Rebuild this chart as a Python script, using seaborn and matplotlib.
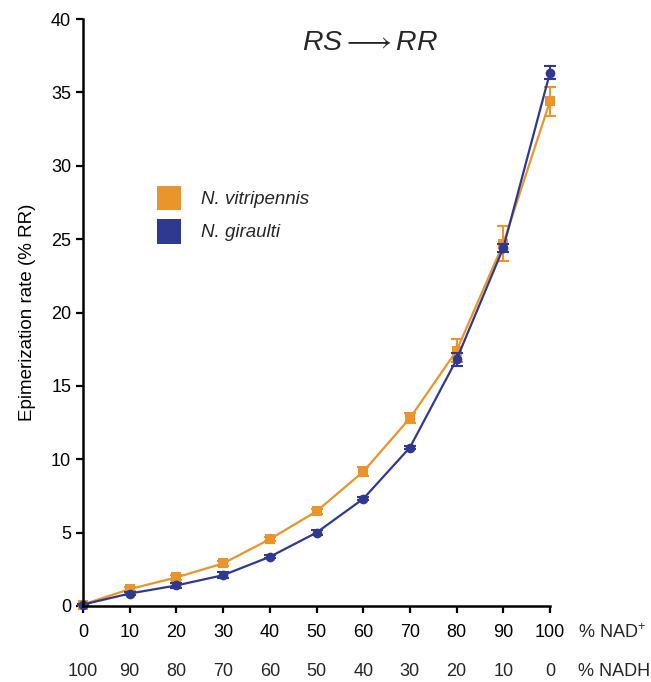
import numpy as np
import pandas as pd
import matplotlib
matplotlib.use("Agg")
import matplotlib.pyplot as plt
import seaborn as sns
from matplotlib.patches import Patch

# Data
nad_pct = [0, 10, 20, 30, 40, 50, 60, 70, 80, 90, 100]
nadh_pct = [100, 90, 80, 70, 60, 50, 40, 30, 20, 10, 0]

vitripennis_rate = [0.1, 1.15, 1.95, 2.9, 4.55, 6.45, 9.15, 12.8, 17.4, 24.7, 34.4]
vitripennis_err = [0.05, 0.15, 0.15, 0.15, 0.15, 0.15, 0.3, 0.35, 0.8, 1.2, 1.0]

giraulti_rate = [0.1, 0.85, 1.4, 2.1, 3.35, 5.0, 7.3, 10.8, 16.8, 24.4, 36.35]
giraulti_err = [0.05, 0.1, 0.2, 0.2, 0.1, 0.15, 0.1, 0.1, 0.45, 0.3, 0.45]

ORANGE = "#E9952B"
BLUE = "#2F3990"

sns.set_theme(style="ticks")
plt.rcParams["font.family"] = ["Liberation Sans", "DejaVu Sans"]
plt.rcParams["mathtext.fontset"] = "custom"
plt.rcParams["mathtext.rm"] = "Liberation Sans"
plt.rcParams["mathtext.it"] = "Liberation Sans:italic"

df = pd.DataFrame({
    "nad": nad_pct * 2,
    "rate": vitripennis_rate + giraulti_rate,
    "err": vitripennis_err + giraulti_err,
    "species": ["N. vitripennis"] * len(nad_pct) + ["N. giraulti"] * len(nad_pct),
})

fig = plt.figure(figsize=(6.51, 6.82), dpi=100)
ax = fig.add_axes([83 / 651, 1 - 606 / 682, 467 / 651, 587 / 682])

styles = {"N. vitripennis": (ORANGE, "s", 7.5), "N. giraulti": (BLUE, "o", 7)}
for name in ["N. vitripennis", "N. giraulti"]:
    sub = df[df["species"] == name]
    color, mk, ms = styles[name]
    sns.lineplot(data=sub, x="nad", y="rate", ax=ax, color=color, lw=1.6,
                 marker=mk, markersize=ms, markeredgewidth=0, clip_on=False)
    ax.errorbar(sub["nad"], sub["rate"], yerr=sub["err"], fmt="none",
                ecolor=color, elinewidth=1.5, capsize=4, capthick=1.5, clip_on=False)

ax.set_xlim(0, 100)
ax.set_ylim(0, 40)
ax.set_xticks(nad_pct)
ax.set_xticklabels([str(v) for v in nad_pct])
ax.set_yticks(range(0, 41, 5))
ax.tick_params(axis="both", labelsize=13, length=5, width=1.6, color="black",
               labelcolor="black")
ax.tick_params(axis="x", pad=8)
ax.set_xlabel("")
ax.set_ylabel("Epimerization rate (% RR)", fontsize=13.5, color="black", labelpad=11)
sns.despine(ax=ax)
for s in ["left", "bottom"]:
    ax.spines[s].set_linewidth(1.8)
    ax.spines[s].set_color("black")

# second row of x labels (% NADH)
for x, lab in zip(nad_pct, nadh_pct):
    ax.annotate(str(lab), xy=(x, 0), xycoords=("data", "axes fraction"),
                xytext=(0, -65), textcoords="offset pixels",
                ha="center", va="center", fontsize=13)
ax.annotate("% NAD$^{+}$", xy=(1, 0), xycoords="axes fraction",
            xytext=(28, -27), textcoords="offset pixels",
            ha="left", va="center", fontsize=13)
ax.annotate("% NADH", xy=(1, 0), xycoords="axes fraction",
            xytext=(28, -65), textcoords="offset pixels",
            ha="left", va="center", fontsize=13)

# title
fig.text(370 / 651, 1 - 43 / 682, r"$\mathit{RS}\longrightarrow\mathit{RR}$",
         ha="center", va="center", fontsize=20.5)

handles = [Patch(facecolor=ORANGE, edgecolor="none"), Patch(facecolor=BLUE, edgecolor="none")]
leg = ax.legend(handles, ["N. vitripennis", "N. giraulti"], loc="upper left",
                bbox_to_anchor=(0.158, 0.716), frameon=False, fontsize=13.5,
                handlelength=1.3, handleheight=1.65, handletextpad=1.05,
                labelspacing=0.45, borderpad=0, borderaxespad=0)
for t in leg.get_texts():
    t.set_fontstyle("italic")

fig.savefig("out.png", dpi=100)
